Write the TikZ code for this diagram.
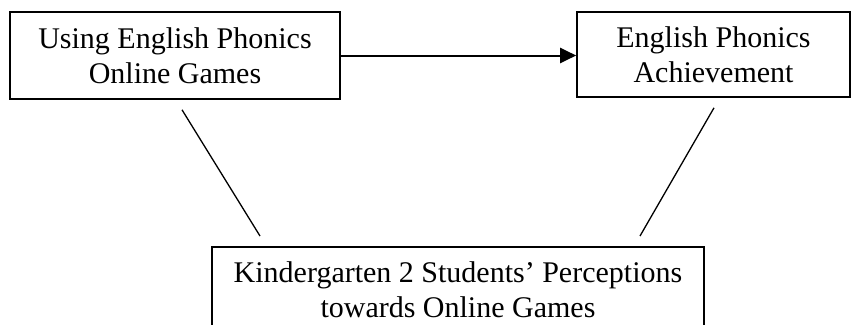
\documentclass[tikz,border=0pt]{standalone}
\usepackage{fontspec}
\setmainfont{Liberation Serif}
\usetikzlibrary{arrows.meta}

\begin{document}
\begin{tikzpicture}[x=1pt, y=-1pt,
  box/.style={draw, line width=1.6pt, align=center, inner sep=0pt,
              font=\fontsize{30}{35}\selectfont},
  link/.style={line width=1.3pt},
  arrow/.style={line width=2pt, -{Triangle[length=16pt, width=15pt]}},
]
\clip (0,0) rectangle (851,324);

\node[box, minimum width=330pt, minimum height=87pt] (use) at (175, 55.5)
  {Using English Phonics\\Online Games};
\node[box, minimum width=273pt, minimum height=85pt] (ach) at (713.5, 54.5)
  {English Phonics\\Achievement};
\node[box, minimum width=492pt, minimum height=86pt, anchor=north] (perc) at (458, 246)
  {Kindergarten 2 Students' Perceptions\\towards Online Games};

\draw[arrow] (use.east) -- (use.east -| ach.west);
\draw[link] ([xshift=7pt, yshift=-10pt]use.south) -- ([xshift=-198pt, yshift=10pt]perc.north);
\draw[link] ([xshift=0.5pt, yshift=-10pt]ach.south) -- ([xshift=182pt, yshift=10pt]perc.north);

\end{tikzpicture}
\end{document}
